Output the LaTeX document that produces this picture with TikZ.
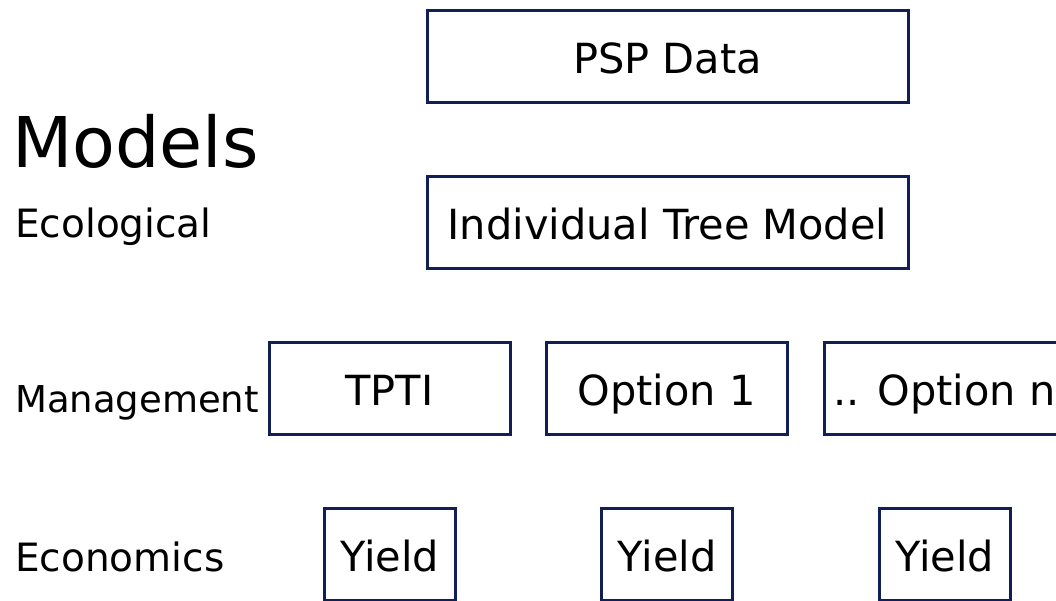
\documentclass[tikz,border=0pt]{standalone}
\usepackage{fontspec}
\setmainfont{DejaVu Sans}
\definecolor{boxnavy}{RGB}{16,32,86}

\begin{document}
\begin{tikzpicture}[x=1pt,y=-1pt,
    every node/.style={font=\fontsize{41.5}{45}\selectfont},
    box/.style={draw=boxnavy, line width=3pt, minimum height=92pt, inner sep=0pt,
                text height=34pt, text depth=0pt},
    rowlabel/.style={anchor=base west, inner sep=0pt, font=\fontsize{39}{43}\selectfont}]

\useasboundingbox (0,0) rectangle (1056,601);
\clip (0,0) rectangle (1056,601);

% ==== 左侧标题和各层名称 ====
\node[anchor=base west, inner sep=0pt, font=\fontsize{70}{75}\selectfont] (title) at (12,168) {Models};
\node[rowlabel] (eco)  at (15,238) {Ecological};
\node[rowlabel, font=\fontsize{37}{41}\selectfont] (mgmt) at (15,412) {Management};
\node[rowlabel] (econ) at (15,571) {Economics};

% ==== 上面两个宽框 ====
\node[box, minimum width=481pt] (psp) at (667.5,56.5) {PSP Data};
\node[box, minimum width=481pt] (itm) at (667.5,223) {Individual Tree Model};

% ==== 经营方案一排 ====
\node[box, minimum width=241pt] (tpti) at (389.5,388.5) {TPTI};
\node[box, minimum width=241pt] (opt1) at (666.5,388.5) {Option 1};
\node[box, minimum width=241pt] (optn) at (944.5,388.5) {.. Option n};

% ==== 下面一排 Yield ====
\node[box, minimum width=131pt] (yield1) at (389.5,554) {Yield};
\node[box, minimum width=131pt] (yield2) at (667,554) {Yield};
\node[box, minimum width=131pt] (yield3) at (944.5,554) {Yield};

\end{tikzpicture}
\end{document}
